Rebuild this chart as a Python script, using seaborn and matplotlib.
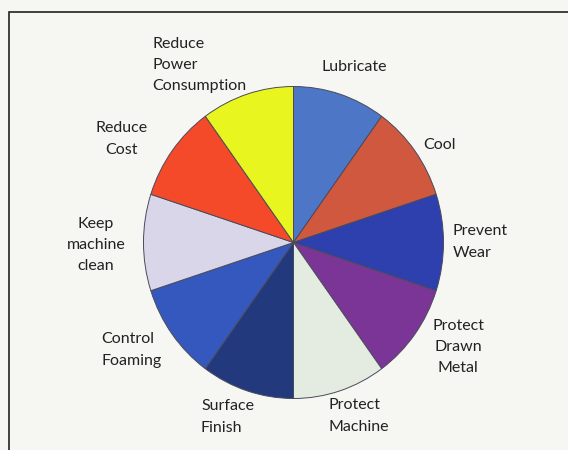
import matplotlib
matplotlib.use("Agg")
import matplotlib.pyplot as plt
import seaborn as sns
from matplotlib.patches import Rectangle

# Funciones del fluido de trefilado (10 porciones iguales)
labels = ["Lubricate", "Cool", "Prevent\nWear", "Protect\nDrawn\nMetal",
          "Protect\nMachine", "Surface\nFinish", "Control\nFoaming",
          "Keep\nmachine\nclean", "Reduce\nCost", "Reduce\nPower\nConsumption"]
values = [10, 10, 10, 10, 10, 10, 10, 10, 10, 10]
colors = ["#4E76C6", "#D0583E", "#2E3FAE", "#7B3596", "#E4ECE2",
          "#22397E", "#3458BE", "#D9D6EA", "#F54A2A", "#E9F51E"]

# posicion de cada etiqueta en pixeles (x, y) y alineacion
label_pos = [(354, 67, "center"), (440, 145, "center"), (453, 242, "left"),
             (458, 347, "center"), (328, 416, "left"), (201, 417, "left"),
             (101, 350, "left"), (96, 245, "center"), (122, 139, "center"),
             (152, 65, "left")]

sns.set_style("white")
plt.rcParams["font.family"] = ["Lato", "DejaVu Sans"]

W, H = 568, 450
fig = plt.figure(figsize=(W / 100, H / 100), dpi=100, facecolor="#F6F7F3")
ax = fig.add_axes([0, 0, 1, 1])
ax.set_facecolor("#F6F7F3")

# pie ligeramente estirado en vertical, como en el escaneo
cx, cy, r, stretch = 293.5, 242.5, 150, 1.04
ax.pie(values, colors=colors, startangle=90, counterclock=False,
       radius=r, center=(cx, (H - cy) / stretch),
       wedgeprops=dict(edgecolor="#4a4a5a", linewidth=0.7))
ax.set_aspect("auto")
ax.set_xlim(0, W)
ax.set_ylim(0, H / stretch)
ax.axis("off")

for lab, (x, y, ha) in zip(labels, label_pos):
    fig.text(x / W, 1 - y / H, lab, ha=ha, va="center", fontsize=11.5,
             color="#222222", linespacing=1.65, multialignment=ha)

# marco del recuadro escaneado
fig.patches.append(Rectangle((9 / W, -0.05), 1.0, 1 - 12 / H + 0.05,
                             transform=fig.transFigure, fill=False,
                             edgecolor="#222222", linewidth=1.2))

fig.savefig("out.png", dpi=100, facecolor=fig.get_facecolor())
